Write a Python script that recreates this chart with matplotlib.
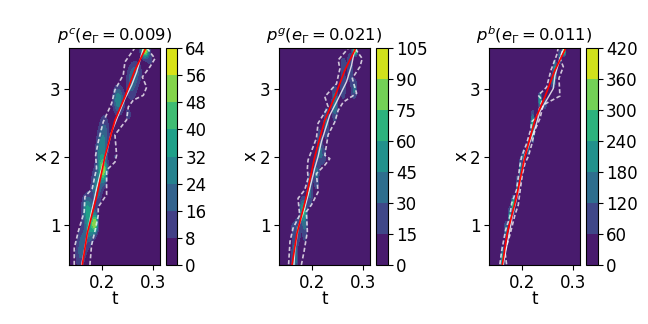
#!/usr/bin/env python3
import matplotlib
matplotlib.use("Agg")
import matplotlib.pyplot as plt
import numpy as np

# exact shock path, same in each panel
true_t = [0.1603, 0.1702, 0.1887, 0.2053, 0.2252, 0.245, 0.2649, 0.2861]
true_x = [0.403, 0.873, 1.41, 2.0, 2.535, 2.88, 3.27, 3.59]

titles = [r"$p^c(e_\Gamma = 0.009)$", r"$p^g(e_\Gamma = 0.021)$", r"$p^b(e_\Gamma = 0.011)$"]
levels_c = [0, 8, 16, 24, 32, 40, 48, 56, 64]
levels_g = [0, 15, 30, 45, 60, 75, 90, 105]
levels_b = [0, 60, 120, 180, 240, 300, 360, 420]

# density peaks: centre t, centre x, spread t, spread x, height
c_peak_t = [0.1556, 0.1623, 0.1755, 0.1854, 0.1702, 0.1887, 0.202, 0.1954, 0.2252, 0.204, 0.2318, 0.2517, 0.2583, 0.2682, 0.2848, 0.2947]
c_peak_x = [0.53, 0.775, 0.97, 1.02, 1.24, 1.56, 1.80, 2.05, 2.0, 2.3, 2.83, 2.61, 3.07, 3.24, 3.56, 3.42]
c_peak_st = [0.007, 0.008, 0.006, 0.004, 0.007, 0.007, 0.005, 0.006, 0.005, 0.007, 0.007, 0.006, 0.008, 0.008, 0.005, 0.006]
c_peak_sx = [0.17, 0.16, 0.15, 0.10, 0.14, 0.18, 0.13, 0.2, 0.09, 0.22, 0.14, 0.09, 0.18, 0.12, 0.07, 0.09]
c_peak_h = [13, 15, 30, 46, 30, 26, 46, 20, 8, 20, 30, 9, 18, 14, 58, 9]

g_peak_t = [0.1656, 0.1623, 0.1722, 0.1854, 0.1821, 0.1954, 0.2086, 0.2218, 0.2152, 0.2285, 0.245, 0.2616, 0.2834, 0.2748, 0.2616, 0.2848]
g_peak_x = [0.53, 0.97, 0.92, 0.97, 1.215, 1.51, 1.75, 2.0, 2.19, 2.49, 2.78, 3.02, 3.0, 3.32, 3.37, 3.56]
g_peak_st = [0.004, 0.005, 0.004, 0.004, 0.004, 0.004, 0.004, 0.006, 0.004, 0.004, 0.004, 0.004, 0.004, 0.004, 0.005, 0.003]
g_peak_sx = [0.22, 0.09, 0.14, 0.18, 0.12, 0.18, 0.18, 0.1, 0.18, 0.18, 0.18, 0.15, 0.11, 0.18, 0.11, 0.05]
g_peak_h = [40, 14, 28, 28, 58, 36, 32, 22, 28, 32, 42, 28, 34, 26, 18, 85]

b_peak_t = [0.1609, 0.1676, 0.1755, 0.1821, 0.1901, 0.1967, 0.202, 0.2119, 0.2205, 0.2351, 0.245, 0.2616, 0.2649, 0.2748, 0.2828]
b_peak_x = [0.48, 0.92, 1.12, 1.29, 1.56, 1.80, 2.0, 2.14, 2.44, 2.83, 2.78, 3.12, 3.29, 3.46, 3.56]
b_peak_st = [0.002, 0.002, 0.002, 0.002, 0.002, 0.002, 0.002, 0.002, 0.002, 0.002, 0.003, 0.003, 0.002, 0.002, 0.002]
b_peak_sx = [0.12, 0.09, 0.09, 0.08, 0.12, 0.12, 0.08, 0.09, 0.14, 0.07, 0.07, 0.09, 0.09, 0.07, 0.05]
b_peak_h = [260, 160, 200, 280, 130, 170, 130, 140, 260, 230, 100, 140, 190, 150, 380]

# white dashed band edges and white solid mean
c_left_t = [0.1444, 0.1444, 0.1523, 0.1642, 0.1656, 0.1801, 0.1887, 0.1868, 0.1921, 0.202, 0.2185, 0.2252, 0.2417, 0.245, 0.2649]
c_left_x = [0.408, 0.653, 0.897, 1.19, 1.41, 1.53, 1.83, 2.02, 2.22, 2.51, 2.78, 2.98, 3.20, 3.39, 3.60]
c_right_t = [0.1755, 0.1788, 0.1868, 0.1921, 0.1921, 0.2086, 0.2086, 0.2252, 0.2285, 0.2252, 0.2483, 0.2517, 0.2616, 0.2815, 0.2881, 0.2795, 0.2947, 0.3046, 0.2881]
c_right_x = [0.408, 0.70, 0.946, 1.14, 1.26, 1.44, 1.80, 1.92, 2.02, 2.32, 2.54, 2.73, 2.83, 2.90, 3.02, 3.17, 3.32, 3.44, 3.60]
c_mean_t = [0.1589, 0.1642, 0.1722, 0.1788, 0.1887, 0.1954, 0.2086, 0.2185, 0.2318, 0.245, 0.2583, 0.2682, 0.2815]
c_mean_x = [0.403, 0.604, 0.946, 1.19, 1.53, 1.73, 2.07, 2.36, 2.61, 2.85, 3.05, 3.24, 3.59]

g_left_t = [0.1536, 0.1563, 0.1623, 0.1755, 0.1722, 0.1854, 0.1921, 0.1907, 0.1921, 0.2086, 0.2119, 0.2318, 0.2252, 0.2483, 0.255, 0.2517, 0.2715]
g_left_x = [0.418, 0.75, 0.946, 1.14, 1.386, 1.51, 1.68, 1.83, 1.95, 2.27, 2.49, 2.73, 2.88, 3.07, 3.29, 3.42, 3.59]
g_right_t = [0.1788, 0.1841, 0.1907, 0.1887, 0.1987, 0.2119, 0.2086, 0.2252, 0.2351, 0.2252, 0.2318, 0.245, 0.2517, 0.2616, 0.2881, 0.2795, 0.2947, 0.2993, 0.2848]
g_right_x = [0.408, 0.604, 0.897, 1.19, 1.29, 1.48, 1.75, 1.875, 1.97, 2.02, 2.32, 2.51, 2.68, 2.80, 2.93, 3.15, 3.32, 3.44, 3.59]
g_mean_t = [0.1642, 0.1656, 0.1722, 0.1854, 0.1954, 0.2053, 0.2119, 0.2185, 0.2351, 0.2483, 0.2682, 0.2781, 0.2848]
g_mean_x = [0.408, 0.604, 0.946, 1.24, 1.53, 1.83, 2.0, 2.22, 2.61, 2.80, 3.10, 3.34, 3.59]

b_left_t = [0.1556, 0.1589, 0.1669, 0.1755, 0.1788, 0.1887, 0.1954, 0.1987, 0.2086, 0.2172, 0.2185, 0.2285, 0.2397, 0.2318, 0.2483, 0.257, 0.2682, 0.2715]
b_left_x = [0.418, 0.604, 0.92, 1.12, 1.31, 1.51, 1.875, 2.0, 2.19, 2.41, 2.51, 2.58, 2.83, 2.90, 3.02, 3.27, 3.49, 3.60]
b_right_t = [0.1689, 0.1656, 0.1755, 0.1854, 0.1921, 0.1954, 0.2, 0.2053, 0.2119, 0.2185, 0.2252, 0.2351, 0.2417, 0.2748, 0.2728, 0.2815, 0.2748, 0.2815]
b_right_x = [0.418, 0.604, 0.85, 1.14, 1.29, 1.48, 1.73, 1.90, 2.0, 2.17, 2.39, 2.56, 2.76, 2.89, 3.15, 3.32, 3.44, 3.59]
b_mean_t = [0.1623, 0.1722, 0.1821, 0.1921, 0.2020, 0.2053, 0.2252, 0.2351, 0.2483, 0.2616, 0.2649, 0.2748, 0.2828]
b_mean_x = [0.418, 0.80, 1.19, 1.48, 1.875, 2.02, 2.41, 2.66, 2.83, 3.0, 3.19, 3.44, 3.60]


def density(peak_t, peak_x, peak_st, peak_sx, peak_h, grid_t, grid_x):
    out = np.zeros_like(grid_t)
    for t0, x0, st, sx, h in zip(peak_t, peak_x, peak_st, peak_sx, peak_h):
        out += h * np.exp(-((grid_t - t0) / st) ** 2 / 2 - ((grid_x - x0) / sx) ** 2 / 2)
    return out


def draw_panel(fig, box, cbox, title, levels, peaks, left, right, mean):
    ax = fig.add_axes(box)
    cax = fig.add_axes(cbox)
    t = np.linspace(0.134, 0.3146, 361)
    x = np.linspace(0.403, 3.6, 321)
    grid_t, grid_x = np.meshgrid(t, x)
    z = np.minimum(density(*peaks, grid_t, grid_x), levels[-1])
    cs = ax.contourf(t, x, z, levels=levels, cmap="viridis", vmin=0, vmax=levels[-1])
    ax.plot(left[0], left[1], "--", color="white", alpha=0.75, linewidth=1.2, dashes=(2.5, 1.5))
    ax.plot(right[0], right[1], "--", color="white", alpha=0.75, linewidth=1.2, dashes=(2.5, 1.5))
    ax.plot(mean[0], mean[1], "-", color="white", alpha=0.8, linewidth=1.0)
    ax.plot(true_t, true_x, "-", color="red", linewidth=1.2)
    ax.set_xlim(0.134, 0.3146)
    ax.set_ylim(0.403, 3.6)
    ax.set_xticks([0.2, 0.3])
    ax.set_yticks([1, 2, 3])
    ax.tick_params(labelsize=12, pad=2.5)
    ax.set_xlabel("t", fontsize=12, labelpad=-1)
    ax.set_ylabel("x", fontsize=12, labelpad=0)
    ax.set_title(title, fontsize=11.8, pad=5)
    cbar = fig.colorbar(cs, cax=cax, ticks=levels)
    cbar.ax.tick_params(labelsize=12, pad=2.5)


W, H = 648, 324
fig = plt.figure(figsize=(W / 100, H / 100), dpi=100)


def px_box(x0, x1, y0=47.7, y1=265.3):
    return [x0 / W, 1 - y1 / H, (x1 - x0) / W, (y1 - y0) / H]


draw_panel(fig, px_box(69, 160), px_box(165.5, 177), titles[0], levels_c,
           (c_peak_t, c_peak_x, c_peak_st, c_peak_sx, c_peak_h),
           (c_left_t, c_left_x), (c_right_t, c_right_x), (c_mean_t, c_mean_x))
draw_panel(fig, px_box(278.7, 370), px_box(375.7, 387.7), titles[1], levels_g,
           (g_peak_t, g_peak_x, g_peak_st, g_peak_sx, g_peak_h),
           (g_left_t, g_left_x), (g_right_t, g_right_x), (g_mean_t, g_mean_x))
draw_panel(fig, px_box(489, 580), px_box(585.7, 597.7), titles[2], levels_b,
           (b_peak_t, b_peak_x, b_peak_st, b_peak_sx, b_peak_h),
           (b_left_t, b_left_x), (b_right_t, b_right_x), (b_mean_t, b_mean_x))
fig.savefig("out.png", dpi=100)
